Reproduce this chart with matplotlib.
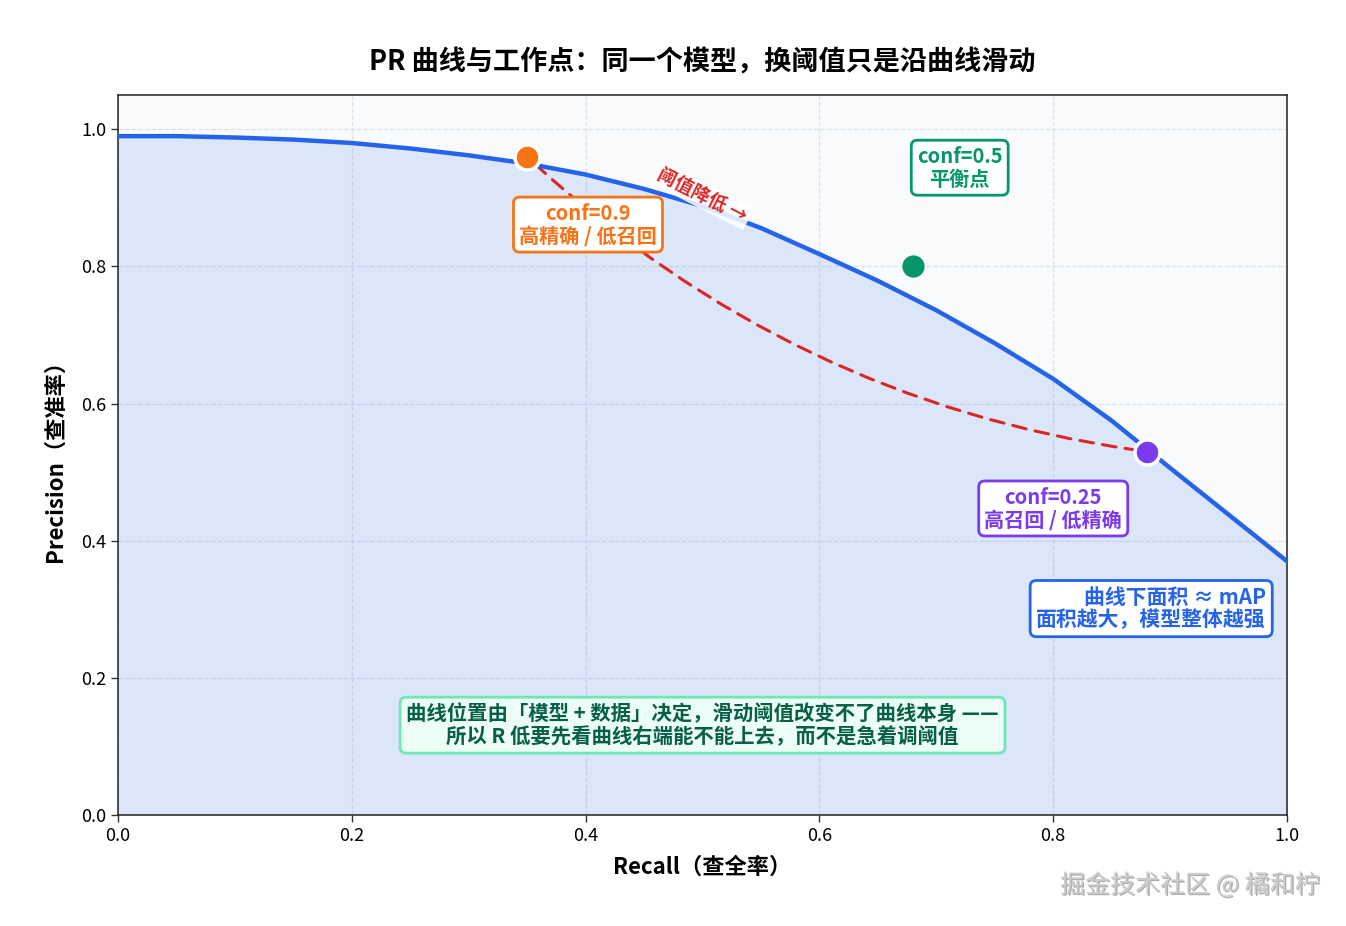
import matplotlib
matplotlib.use("Agg")
import matplotlib.pyplot as plt
import matplotlib.patheffects as pe

plt.rcParams['font.family'] = ['Noto Sans CJK SC', 'DejaVu Sans']
plt.rcParams['axes.unicode_minus'] = False

# PR curve
recall = [0.00, 0.05, 0.10, 0.15, 0.20, 0.25, 0.30, 0.35, 0.40, 0.45, 0.50,
          0.55, 0.60, 0.65, 0.70, 0.75, 0.80, 0.85, 0.90, 0.95, 1.00]
precision = [0.990, 0.990, 0.988, 0.985, 0.980, 0.972, 0.962, 0.950, 0.934, 0.913, 0.888,
             0.856, 0.818, 0.779, 0.736, 0.688, 0.636, 0.575, 0.506, 0.438, 0.370]

# working points
wp_conf = ['0.9', '0.5', '0.25']
wp_recall = [0.35, 0.68, 0.88]
wp_precision = [0.96, 0.80, 0.53]
wp_notes = ['高精确 / 低召回', '平衡点', '高召回 / 低精确']
wp_colors = ['#f97316', '#059669', '#7c3aed']

blue = '#2563eb'
red = '#dc2626'

fig = plt.figure(figsize=(13.46, 9.26), dpi=100)
ax = fig.add_axes([0.0877, 0.1199, 0.8685, 0.7775])
ax.set_facecolor('#f8fafc')

ax.fill_between(recall, precision, 0, color=blue, alpha=0.13, lw=0, zorder=1)
ax.plot(recall, precision, color=blue, lw=3.2, zorder=3, solid_joinstyle='round')

# dashed path between high and low threshold
ax.annotate('', xy=(wp_recall[2], wp_precision[2]), xytext=(wp_recall[0], wp_precision[0]),
            arrowprops=dict(arrowstyle='-', color=red, lw=2.2, linestyle=(0, (4.5, 3)),
                            connectionstyle='arc3,rad=0.16', shrinkA=8, shrinkB=10),
            zorder=2)

ax.plot(wp_recall[0], wp_precision[0], 'o', ms=18, color=wp_colors[0], mec='white', mew=2.5, zorder=6)
ax.plot(wp_recall[1], wp_precision[1], 'o', ms=16, color=wp_colors[1], mec=wp_colors[1], mew=0, zorder=6)
ax.plot(wp_recall[2], wp_precision[2], 'o', ms=18, color=wp_colors[2], mec='white', mew=2.5, zorder=6)

label_pos = [(0.402, 0.861), (0.720, 0.944), (0.800, 0.447)]
for c, note, col, (lx, ly) in zip(wp_conf, wp_notes, wp_colors, label_pos):
    ax.text(lx, ly, f'conf={c}\n{note}', color=col, fontsize=14.5, fontweight='bold',
            ha='center', va='center', linespacing=1.1, zorder=7,
            bbox=dict(boxstyle='round,pad=0.28,rounding_size=0.3', fc='white', ec=col, lw=2))

ax.text(0.50, 0.903, '阈值降低 →', color=red, fontsize=13.5, fontweight='bold',
        rotation=-27, ha='center', va='center', rotation_mode='anchor', zorder=5,
        bbox=dict(boxstyle='square,pad=0.15', fc='white', ec='none', alpha=0.85))

ax.text(0.982, 0.301, '曲线下面积 ≈ mAP\n面积越大，模型整体越强', color=blue, fontsize=15,
        fontweight='bold', ha='right', va='center', multialignment='right', linespacing=1.1, zorder=7,
        bbox=dict(boxstyle='round,pad=0.3,rounding_size=0.3', fc='white', ec=blue, lw=2))

ax.text(0.50, 0.131, '曲线位置由「模型 + 数据」决定，滑动阈值改变不了曲线本身 ——\n'
        '所以 R 低要先看曲线右端能不能上去，而不是急着调阈值',
        color='#065f46', fontsize=14.7, fontweight='bold', ha='center', va='center',
        linespacing=1.1, zorder=7,
        bbox=dict(boxstyle='round,pad=0.3,rounding_size=0.3', fc='#ecfdf5', ec='#6ee7b7', lw=2))

ax.set_xlim(0, 1.0)
ax.set_ylim(0, 1.05)
ax.set_xticks([0, 0.2, 0.4, 0.6, 0.8, 1.0])
ax.set_yticks([0, 0.2, 0.4, 0.6, 0.8, 1.0])
ax.tick_params(labelsize=13, length=5, width=1, color='#333333')
ax.grid(True, linestyle='--', color='#d5dae2', lw=0.9, alpha=0.8)
ax.set_axisbelow(True)
for s in ax.spines.values():
    s.set_color('#222222')
    s.set_linewidth(1.1)

ax.set_xlabel('Recall（查全率）', fontsize=16, fontweight='bold', labelpad=8)
ax.set_ylabel('Precision（查准率）', fontsize=16, fontweight='bold', labelpad=10)
ax.set_title('PR 曲线与工作点：同一个模型，换阈值只是沿曲线滑动', fontsize=19.5,
             fontweight='bold', pad=18)

fig.text(0.884, 0.044, '掘金技术社区 @ 橘和柠', fontsize=18, color='#cccccc',
         ha='center', va='center',
         path_effects=[pe.withSimplePatchShadow(offset=(1, -1), shadow_rgbFace='#777777', alpha=0.6)])

fig.savefig('out.png', dpi=100)
